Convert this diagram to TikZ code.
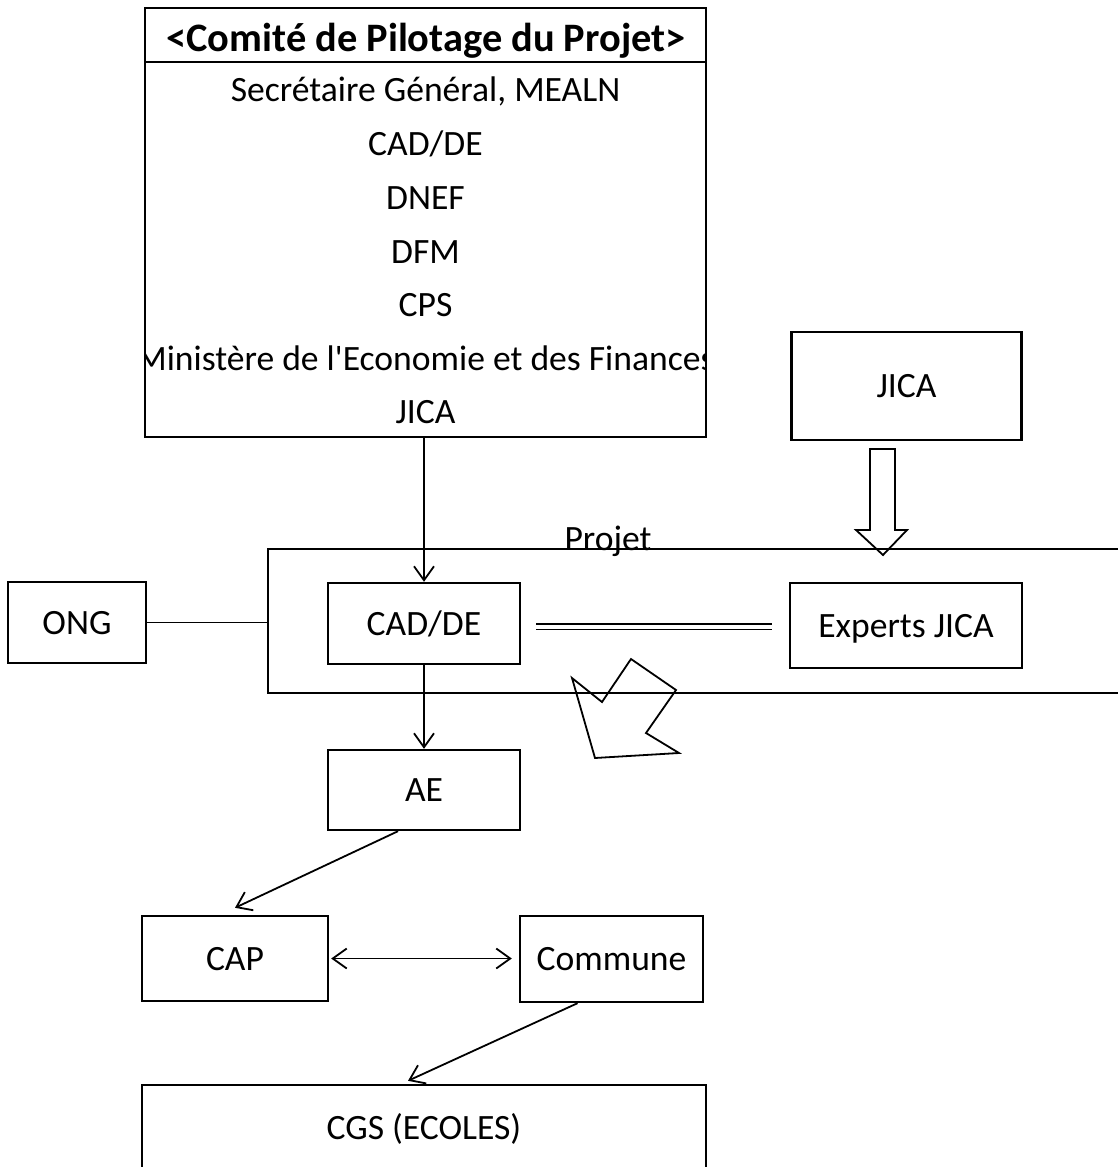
\documentclass[tikz,border=0pt]{standalone}
\usepackage{fontspec}
\setmainfont{Carlito}
\usetikzlibrary{arrows.meta}
\begin{document}
\begin{tikzpicture}[x=0.5pt, y=-0.5pt, line width=0.9pt,
  font=\fontsize{17.8}{20}\selectfont,
  texte/.style={text height=11.5pt, text depth=0pt, inner sep=0pt},
  boite/.style={draw, line width=1.2pt, texte},
  fleche/.style={-{Straight Barb[length=7pt, width=10pt]}}]
  \useasboundingbox (0,0) rectangle (1118,1167);
  % comité de pilotage
  \node[boite, minimum width=280.5pt, minimum height=214.5pt] (comite) at (425.5,222.5) {};
  \draw[line width=1.2pt] (145,62) -- (706,62);
  \node[texte, text height=13pt, font=\fontsize{20.2}{22}\selectfont\bfseries] (titre) at (426,38) {<Comité de Pilotage du Projet>};
  \begin{scope}
    \clip (145,62) rectangle (706,437);
    \foreach \y/\txt [count=\i] in {90/{Secrétaire Général, MEALN}, 144/CAD\slash DE, 198/DNEF, 252/DFM,
        305/CPS, 359/{Ministère de l\textquotesingle Economie et des Finances}, 412/JICA}
      \node[texte] (membre\i) at (425.5,\y) {\txt};
  \end{scope}
  % cadre du projet
  \draw (1118,549) -- (268,549) -- (268,693) -- (1118,693);
  \coordinate (projetG) at (268,622);
  \node[texte, anchor=base] (projet) at (608,550) {Projet};
  % boîtes
  \node[boite, minimum width=69pt, minimum height=40.5pt] (ong) at (77,622.5) {ONG};
  \node[boite, minimum width=96pt, minimum height=40.5pt] (cadde) at (424,623.5) {CAD/DE};
  \node[boite, minimum width=116pt, minimum height=42.5pt] (experts) at (906,625.5) {Experts JICA};
  \node[boite, minimum width=115pt, minimum height=54pt] (jica) at (906.5,386) {JICA};
  \node[boite, minimum width=96pt, minimum height=40pt] (ae) at (424,790) {AE};
  \node[boite, minimum width=93pt, minimum height=42.5pt] (cap) at (235,958.5) {CAP};
  \node[boite, minimum width=91.5pt, minimum height=43pt] (commune) at (611.5,959) {Commune};
  \node[boite, minimum width=282pt, minimum height=43pt] (cgs) at (424,1128) {CGS (ECOLES)};
  % liaisons
  \draw[fleche] (cadde.north |- comite.south) -- (cadde.north);
  \draw (ong.east) -- (ong.east -| projetG);
  \coordinate (dblG) at ([xshift=7.5pt, yshift=-1.5pt]cadde.east);
  \coordinate (dblD) at ([xshift=-8.5pt]experts.west);
  \draw[double, double distance=2pt, line width=0.8pt] (dblG) -- (dblG -| dblD);
  \draw[fleche] (cadde.south) -- (ae.north);
  \draw[fleche] ([xshift=-13pt]ae.south) -- ([yshift=3.5pt]cap.north);
  \coordinate (capD) at ([xshift=1pt]cap.east);
  \coordinate (comG) at ([xshift=-3.5pt]commune.west);
  \draw[{Straight Barb[length=7pt, width=10pt]}-{Straight Barb[length=7pt, width=10pt]}] (capD) -- (capD -| comG);
  \draw[fleche] ([xshift=-17pt]commune.south) -- ([xshift=-8pt, yshift=1.5pt]cgs.north);
  % flèche creuse JICA
  \draw (870,449) -- (895,449) -- (895,530) -- (907,530) -- (883,555) -- (856,530) -- (870,530) -- cycle;
  % flèche coudée
  \draw (572,678) -- (602,702) -- (631,659) -- (676,690) -- (646,733) -- (679,753) -- (595,758) -- cycle;
\end{tikzpicture}
\end{document}
